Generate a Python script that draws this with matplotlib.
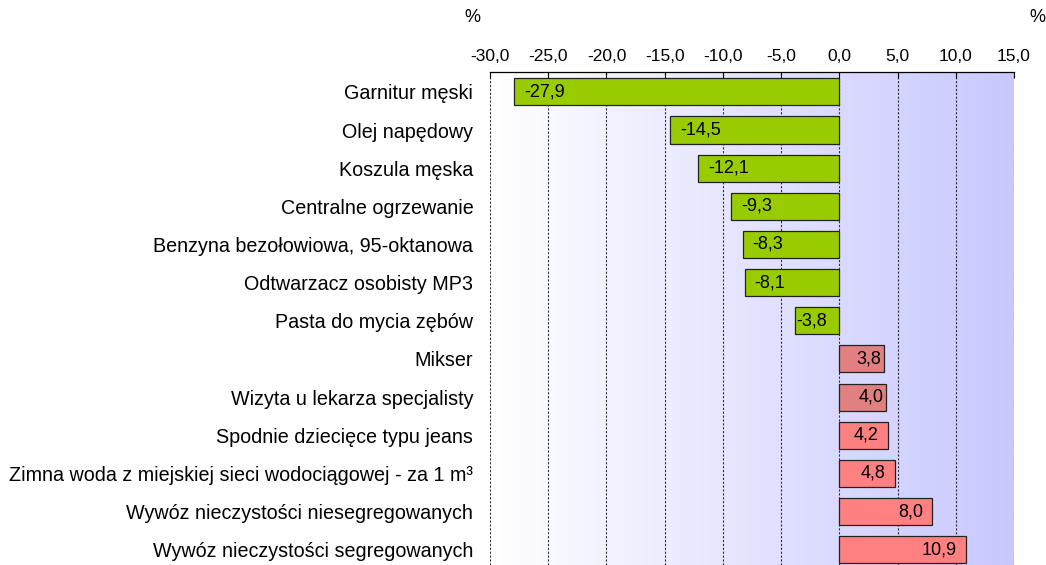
import numpy as np
import matplotlib
matplotlib.use("Agg")
import matplotlib.pyplot as plt
from matplotlib.colors import LinearSegmentedColormap

plt.rcParams['font.family'] = ['Liberation Sans', 'DejaVu Sans']

categories = [
    "Garnitur męski",
    "Olej napędowy",
    "Koszula męska",
    "Centralne ogrzewanie",
    "Benzyna bezołowiowa, 95-oktanowa",
    "Odtwarzacz osobisty MP3",
    "Pasta do mycia zębów",
    "Mikser",
    "Wizyta u lekarza specjalisty",
    "Spodnie dziecięce typu jeans",
    "Zimna woda z miejskiej sieci wodociągowej - za 1 m³",
    "Wywóz nieczystości niesegregowanych",
    "Wywóz nieczystości segregowanych",
]
values = [-27.9, -14.5, -12.1, -9.3, -8.3, -8.1, -3.8, 3.8, 4.0, 4.2, 4.8, 8.0, 10.9]
xticks = [-30, -25, -20, -15, -10, -5, 0, 5, 10, 15]

GREEN = "#99CC00"
PINK = "#FF8080"
DARKPINK = "#E08080"
colors = []
for i, v in enumerate(values):
    if v < 0:
        colors.append(GREEN)
    elif categories[i] in ("Mikser", "Wizyta u lekarza specjalisty"):
        colors.append(DARKPINK)
    else:
        colors.append(PINK)

fig = plt.figure(figsize=(10.46, 5.65), dpi=100)
ax = fig.add_axes([490/1046, 0.0, (1014-490)/1046, 1 - 72/565])

n = len(values)
y = np.arange(n)
ax.set_xlim(-30, 15)
ax.set_ylim(n - 1 + 0.40, -0.52)

# gradient background
cmap = LinearSegmentedColormap.from_list("bg", ["#FFFFFF", "#C8C8FF"])
grad = np.linspace(0, 1, 256).reshape(1, -1)
ax.imshow(grad, extent=[-30, 15, n - 1 + 0.40, -0.52], aspect='auto', cmap=cmap, zorder=0)

for xt in xticks:
    ax.axvline(xt, color="#333333", lw=0.8, ls=(0, (2, 1.5)), zorder=1)

ax.barh(y, values, height=0.71, color=colors, edgecolor="#222222", linewidth=0.9, zorder=2)

for yi, v in zip(y, values):
    lab = f"{v:.1f}".replace(".", ",")
    if v < 0:
        off = 7 if v < -5 else 0.5
        ax.annotate(lab, (v, yi), xytext=(off, 0), textcoords="offset points",
                    ha="left", va="center", fontsize=13, zorder=3)
    else:
        off = -7 if v > 4.1 else -2
        ax.annotate(lab, (v, yi), xytext=(off, 0), textcoords="offset points",
                    ha="right", va="center", fontsize=13, zorder=3)

ax.xaxis.tick_top()
ax.set_xticks(xticks)
ax.set_xticklabels([f"{t:.1f}".replace(".", ",") for t in xticks], fontsize=12.5)
ax.tick_params(axis='x', direction='in', length=4, width=0.8, pad=6)
ax.set_yticks(y)
ax.set_yticklabels(categories, fontsize=14.2)
ax.tick_params(axis='y', length=0, pad=12)
for s in ("left", "right", "bottom"):
    ax.spines[s].set_visible(False)
ax.spines["top"].set_linewidth(0.9)

fig.text(472/1046, 1 - 18/565, "%", ha="center", va="center", fontsize=13)
fig.text(1037/1046, 1 - 18/565, "%", ha="center", va="center", fontsize=13)

fig.savefig("out.png", dpi=100)
